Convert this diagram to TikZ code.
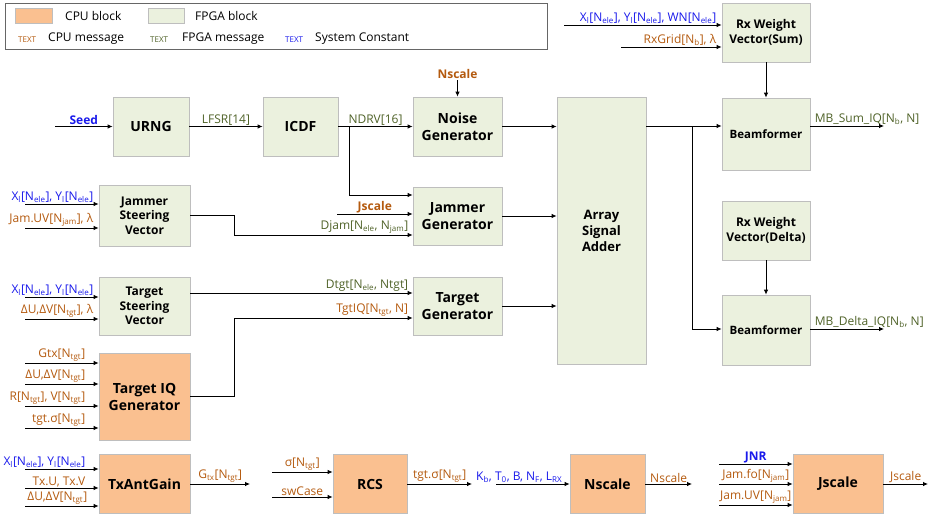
\documentclass[tikz,border=0pt]{standalone}
\usepackage{fontspec}
\setmainfont{Open Sans}
\usetikzlibrary{arrows.meta}
\definecolor{cpufill}{RGB}{250,192,144}
\definecolor{fpgafill}{RGB}{235,241,222}
\definecolor{boxline}{RGB}{190,190,190}
\definecolor{cpumsg}{RGB}{180,90,15}
\definecolor{fpgamsg}{RGB}{79,98,40}
\definecolor{sysconst}{RGB}{25,25,235}
\newcommand{\lo}[1]{\textsubscript{#1}}

\begin{document}
\begin{tikzpicture}[x=1pt,y=-1pt,
  fpga/.style={draw=boxline,fill=fpgafill,line width=0.8pt,inner sep=0pt,align=center,font=\fontsize{12}{14.5}\selectfont\bfseries},
  cpu/.style={fpga,fill=cpufill,bigtxt},
  bigtxt/.style={font=\fontsize{14}{17}\selectfont\bfseries},
  arr/.style={-{Latex[length=5pt,width=4.5pt]},line width=0.8pt},
  lbl/.style={font=\fontsize{12}{14}\selectfont,inner sep=1pt},
  cmsg/.style={lbl,text=cpumsg},
  fmsg/.style={lbl,text=fpgamsg},
  smsg/.style={lbl,text=sysconst},
  legtxt/.style={anchor=west,font=\fontsize{12}{14}\selectfont,inner sep=0pt},
  legtag/.style={anchor=west,font=\fontsize{8}{10}\selectfont,inner sep=0pt}]
\useasboundingbox (0,0) rectangle (935,517);

\node[draw=gray!80!black,line width=0.8pt,minimum width=542,minimum height=46,inner sep=0pt] (legend) at (276,26) {};
\node[cpu,minimum width=37,minimum height=15] (cpusw) at (33.5,15.5) {};
\node[legtxt] (cpuleg) at (65,16) {CPU block};
\node[fpga,minimum width=36,minimum height=15] (fpgasw) at (166,15.5) {};
\node[legtxt] (fpgaleg) at (195,16) {FPGA block};
\node[legtag,text=cpumsg] (cputag) at (18,40) {TEXT};
\node[legtxt] (cpumsgleg) at (48,39) {CPU message};
\node[legtag,text=fpgamsg] (fpgatag) at (150,40) {TEXT};
\node[legtxt] (fpgamsgleg) at (182,39) {FPGA message};
\node[legtag,text=sysconst] (systag) at (285,40) {TEXT};
\node[legtxt] (sysleg) at (315,39) {System Constant};

\node[fpga,bigtxt,minimum width=76,minimum height=59] (urng) at (151,126.5) {URNG};
\node[fpga,bigtxt,minimum width=75,minimum height=59] (icdf) at (300.5,126.5) {ICDF};
\node[fpga,bigtxt,minimum width=89,minimum height=59] (noise) at (457.5,126.5) {Noise\\Generator};
\node[fpga,font=\fontsize{13}{16}\selectfont\bfseries,minimum width=89,minimum height=267] (adder) at (601.5,230.5) {Array\\Signal\\Adder};
\node[fpga,minimum width=88,minimum height=59] (rxsum) at (766,32.5) {Rx Weight\\Vector(Sum)};
\node[fpga,font=\fontsize{11.5}{14}\selectfont\bfseries,minimum width=88,minimum height=72] (bfsum) at (766,134) {Beamformer};
\node[fpga,minimum width=88,minimum height=59] (rxdel) at (766,230.5) {Rx Weight\\Vector(Delta)};
\node[fpga,font=\fontsize{11.5}{14}\selectfont\bfseries,minimum width=88,minimum height=70] (bfdel) at (766,330) {Beamformer};
\node[fpga,minimum width=91,minimum height=61] (jsv) at (144.5,215.5) {Jammer\\Steering\\Vector};
\node[fpga,bigtxt,minimum width=89,minimum height=58] (jgen) at (457.5,216) {Jammer\\Generator};
\node[fpga,minimum width=91,minimum height=58] (tsv) at (144.5,306) {Target\\Steering\\Vector};
\node[fpga,bigtxt,minimum width=89,minimum height=58] (tgen) at (457.5,306) {Target\\Generator};
\node[cpu,minimum width=91,minimum height=87] (tiq) at (144.5,396.5) {Target IQ\\Generator};
\node[cpu,minimum width=91,minimum height=59] (txg) at (144.5,484) {TxAntGain};
\node[cpu,minimum width=74,minimum height=59] (rcs) at (370,484) {RCS};
\node[cpu,minimum width=75,minimum height=59] (nsc) at (607.5,484) {Nscale};
\node[cpu,minimum width=90,minimum height=59] (jsc) at (838,484) {Jscale};

\coordinate (seedin) at (55,126.5);
\coordinate (nsin) at (457.5,80);
\coordinate (nsplit) at (349,126.5);
\coordinate (djx) at (234,0);
\coordinate (jsin) at (337,214);
\coordinate (sumin) at (692,126);
\coordinate (sumout) at (884,126);
\coordinate (delout) at (884,329);
\coordinate (rxa) at (564,25);
\coordinate (rxb) at (621,47);

\draw[arr] (seedin) -- (urng) node[midway,above,smsg,font=\fontsize{12}{14}\selectfont\bfseries] (seedlbl) {Seed};
\draw[arr] (urng) -- (icdf) node[midway,above,fmsg] (lfsrlbl) {LFSR[14]};
\draw[arr] (icdf) -- (noise) node[midway,above,fmsg] (ndrvlbl) {NDRV[16]};
\draw[arr] (nsin) -- (noise);
\node[cmsg,above,font=\fontsize{12}{14}\selectfont\bfseries] (nslbl) at (nsin) {Nscale};
\draw[arr] (nsplit) |- ([yshift=21]jgen.west);
\draw[arr] (jsin) -- (jsin -| jgen.west) node[midway,above,cmsg,font=\fontsize{12}{14}\selectfont\bfseries] (jslbl) {Jscale};
\draw[arr] (jsv.east) -- (jsv.east -| djx) |- ([yshift=-19]jgen.west) node[pos=1,above left,fmsg,xshift=-3] (djamlbl) {Djam[N\lo{ele}, N\lo{jam}]};
\draw[arr] ([yshift=13]tsv.east) -- ([yshift=13]tgen.west) node[pos=1,above left,fmsg,xshift=-3] (dtgtlbl) {Dtgt[N\lo{ele}, Ntgt]};
\draw[arr] (tiq.east) -- (tiq.east -| djx) |- ([yshift=-12]tgen.west) node[pos=1,above left,cmsg,xshift=-3] (tgtiqlbl) {TgtIQ[N\lo{tgt}, N]};
\draw[arr] (noise.east) -- (noise.east -| adder.west);
\draw[arr] (jgen.east) -- (jgen.east -| adder.west);
\draw[arr] (tgen.east) -- (tgen.east -| adder.west);
\draw[arr] (sumin -| adder.east) -- (sumin -| bfsum.west);
\draw[arr] (sumin) |- ([yshift=1]bfdel.west);
\draw[arr] (rxsum) -- (bfsum);
\draw[arr] (rxdel) -- (bfdel);
\draw[arr] (sumout -| bfsum.east) -- (sumout) node[pos=0,above right,fmsg,xshift=3] (sumlbl) {MB\_Sum\_IQ[N\lo{b}, N]};
\draw[arr] (delout -| bfdel.east) -- (delout) node[pos=0,above right,fmsg,xshift=3] (dellbl) {MB\_Delta\_IQ[N\lo{b}, N]};
\draw[arr] (rxa) -- (rxa -| rxsum.west) node[pos=1,above left,smsg,xshift=-4] (rxalbl) {X\lo{l}[N\lo{ele}], Y\lo{l}[N\lo{ele}], WN[N\lo{ele}]};
\draw[arr] (rxb) -- (rxb -| rxsum.west) node[pos=1,above left,cmsg,xshift=-4] (rxblbl) {RxGrid[N\lo{b}], λ};

\coordinate (jsva) at (25,204);
\coordinate (jsvb) at (25,228);
\draw[arr] (jsva) -- (jsva -| jsv.west) node[pos=1,above left,smsg,xshift=-4] (jsvalbl) {X\lo{l}[N\lo{ele}], Y\lo{l}[N\lo{ele}]};
\draw[arr] (jsvb) -- (jsvb -| jsv.west) node[pos=1,above left,cmsg,xshift=-4] (jsvblbl) {Jam.UV[N\lo{jam}], λ};
\coordinate (tsva) at (25,297);
\coordinate (tsvb) at (25,319);
\draw[arr] (tsva) -- (tsva -| tsv.west) node[pos=1,above left,smsg,xshift=-4] (tsvalbl) {X\lo{l}[N\lo{ele}], Y\lo{l}[N\lo{ele}]};
\draw[arr] (tsvb) -- (tsvb -| tsv.west) node[pos=1,above left,cmsg,xshift=-4] (tsvblbl) {ΔU,ΔV[N\lo{tgt}], λ};
\coordinate (tiqa) at (25,363);
\coordinate (tiqb) at (25,384);
\coordinate (tiqc) at (25,406);
\coordinate (tiqd) at (25,428);
\draw[arr] (tiqa) -- (tiqa -| tiq.west) node[pos=1,above left,cmsg,xshift=-12] (tiqalbl) {Gtx[N\lo{tgt}]};
\draw[arr] (tiqb) -- (tiqb -| tiq.west) node[pos=1,above left,cmsg,xshift=-12] (tiqblbl) {ΔU,ΔV[N\lo{tgt}]};
\draw[arr] (tiqc) -- (tiqc -| tiq.west) node[pos=1,above left,cmsg,xshift=-12] (tiqclbl) {R[N\lo{tgt}], V[N\lo{tgt}]};
\draw[arr] (tiqd) -- (tiqd -| tiq.west) node[pos=1,above left,cmsg,xshift=-12] (tiqdlbl) {tgt.σ[N\lo{tgt}]};

\coordinate (txa) at (25,469);
\coordinate (txb) at (25,488);
\coordinate (txc) at (25,506);
\coordinate (txout) at (250,484);
\draw[arr] (txa) -- (txa -| txg.west) node[pos=1,above left,smsg,xshift=-12] (txalbl) {X\lo{l}[N\lo{ele}], Y\lo{l}[N\lo{ele}]};
\draw[arr] (txb) -- (txb -| txg.west) node[pos=1,above left,cmsg,xshift=-12] (txblbl) {Tx.U, Tx.V};
\draw[arr] (txc) -- (txc -| txg.west) node[pos=1,above left,cmsg,xshift=-10] (txclbl) {ΔU,ΔV[N\lo{tgt}]};
\draw[arr] (txg) -- (txout) node[midway,above,cmsg] (gtxlbl) {G\lo{tx}[N\lo{tgt}]};

\coordinate (rcsa) at (272,472);
\coordinate (rcsb) at (272,497);
\coordinate (rcsout) at (472,484);
\draw[arr] (rcsa) -- (rcsa -| rcs.west) node[midway,above,cmsg] (rcsalbl) {σ[N\lo{tgt}]};
\draw[arr] (rcsb) -- (rcsb -| rcs.west) node[midway,above,cmsg] (rcsblbl) {swCase};
\draw[arr] (rcs) -- (rcsout) node[midway,above,cmsg] (rcsoutlbl) {tgt.σ[N\lo{tgt}]};

\coordinate (nsca) at (496,484);
\coordinate (nscout) at (692,484);
\draw[arr] (nsca) -- (nsc) node[pos=1,above left,smsg,xshift=-6] (nscalbl) {K\lo{b}, T\lo{0}, B, N\lo{F}, L\lo{RX}};
\draw[arr] (nsc) -- (nscout) node[midway,above,cmsg] (nscoutlbl) {Nscale};

\coordinate (jsca) at (719,464);
\coordinate (jscb) at (719,484);
\coordinate (jscc) at (719,505);
\coordinate (jscout) at (928,484);
\draw[arr] (jsca) -- (jsca -| jsc.west) node[midway,above,smsg,font=\fontsize{12}{14}\selectfont\bfseries] (jscalbl) {JNR};
\draw[arr] (jscb) -- (jscb -| jsc.west) node[midway,above,cmsg] (jscblbl) {Jam.fo[N\lo{jam}]};
\draw[arr] (jscc) -- (jscc -| jsc.west) node[midway,above,cmsg] (jscclbl) {Jam.UV[N\lo{jam}]};
\draw[arr] (jsc) -- (jscout) node[midway,above,cmsg] (jscoutlbl) {Jscale};
\end{tikzpicture}
\end{document}
